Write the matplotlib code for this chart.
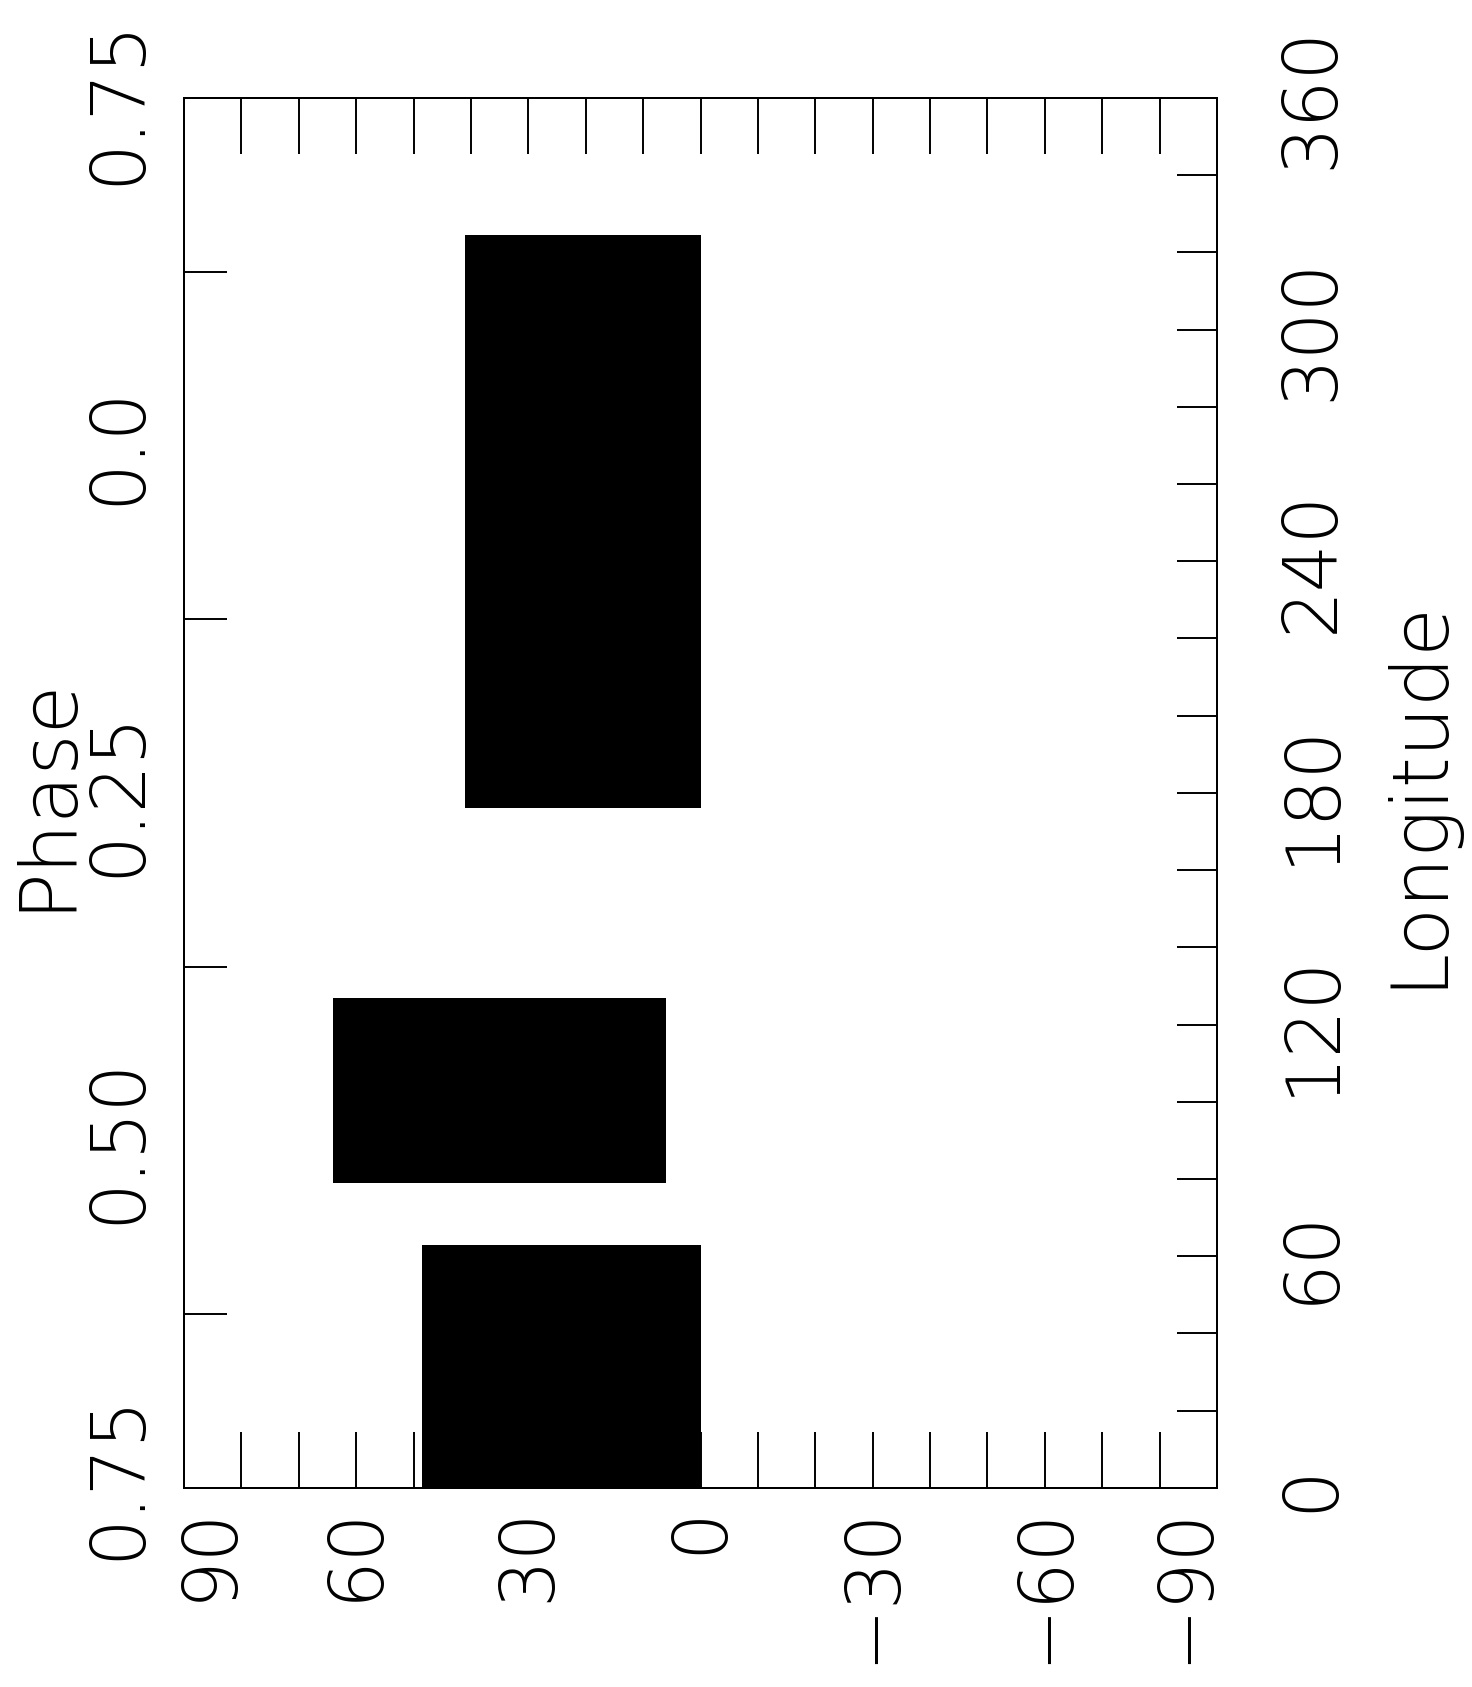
import matplotlib
matplotlib.use('Agg')
import matplotlib.pyplot as plt
import matplotlib.transforms as mtransforms
from matplotlib.ticker import FixedLocator, MultipleLocator

# ---- data (latitude / longitude extents of the filled regions) ----
lat_lo = [0.0, 6.0, 0.0]
lat_hi = [41.0, 64.0, 48.5]
lon_lo = [176.0, 79.0, 0.0]
lon_hi = [324.5, 127.0, 63.0]

lat_ticks = [90, 60, 30, 0, -30, -60, -90]
lat_labels = ['90', '60', '30', '0', '\u221230', '\u221260', '\u221290']
lon_ticks = [0, 60, 120, 180, 240, 300, 360]
lon_labels = ['0', '60', '120', '180', '240', '300', '360']
phase_pos = [0, 90, 180, 270, 360]
phase_labels = ['0.75', '0.50', '0.25', '0.0', '0.75']
phase_minor = [45, 135, 225, 315]

plt.rcParams['font.family'] = ['DejaVu Sans']
FS = 54
FS_LAB = 57
LW = 1.4

fig = plt.figure(figsize=(14.72, 16.87), dpi=100)
ax = fig.add_axes([0.125, 0.118, 0.7018, 0.8240])

widths = [h - l for l, h in zip(lat_lo, lat_hi)]
heights = [h - l for l, h in zip(lon_lo, lon_hi)]
ax.bar(lat_lo, heights, width=widths, bottom=lon_lo, align='edge',
       color='black', linewidth=0)

ax.set_xlim(90, -90)
ax.set_ylim(0, 360)

# latitude axis (bottom/top)
ax.set_xticks(lat_ticks)
ax.set_xticklabels(lat_labels, fontsize=FS, fontweight='light')
ax.xaxis.set_minor_locator(MultipleLocator(10))
ax.tick_params(axis='x', which='both', direction='in', length=40, width=LW,
               top=True, bottom=True, labeltop=False, labelrotation=90, pad=13)

# phase axis (left)
ax.set_yticks(phase_pos)
ax.set_yticklabels(phase_labels, fontsize=FS, fontweight='light')
ax.yaxis.set_minor_locator(FixedLocator(phase_minor))
ax.tick_params(axis='y', which='both', direction='in', length=31, width=LW,
               left=True, right=False, labelrotation=90, pad=21)
ax.tick_params(axis='y', which='major', length=0)
for lab in ax.get_yticklabels():
    lab.set_va('center')
ax.set_ylabel('Phase', fontsize=FS_LAB, fontweight='light')
ax.yaxis.set_label_coords(-0.0965, 0.5)


def shift(lab, dx, dy):
    lab.set_transform(lab.get_transform() + mtransforms.Affine2D().translate(dx, dy))


xl = ax.get_xticklabels()
shift(xl[0], 26, 0)
shift(xl[-1], -32, 0)
yl = ax.get_yticklabels()
shift(yl[0], 0, 12)
shift(yl[-1], 0, -4)

# longitude axis (right)
ax2 = ax.twinx()
ax2.set_ylim(0, 360)
ax2.set_yticks(lon_ticks)
ax2.set_yticklabels(lon_labels, fontsize=FS, fontweight='light')
ax2.yaxis.set_minor_locator(MultipleLocator(20))
ax2.tick_params(axis='y', which='both', direction='in', length=29, width=LW,
                labelrotation=90, pad=42)
for lab in ax2.get_yticklabels():
    lab.set_va('center')
ax2.set_ylabel('Longitude', fontsize=FS_LAB, fontweight='light')
ax2.yaxis.set_label_coords(1.157, 0.5)

for a in (ax, ax2):
    for s in a.spines.values():
        s.set_linewidth(LW)

fig.savefig('out.png', dpi=100, facecolor='white')
